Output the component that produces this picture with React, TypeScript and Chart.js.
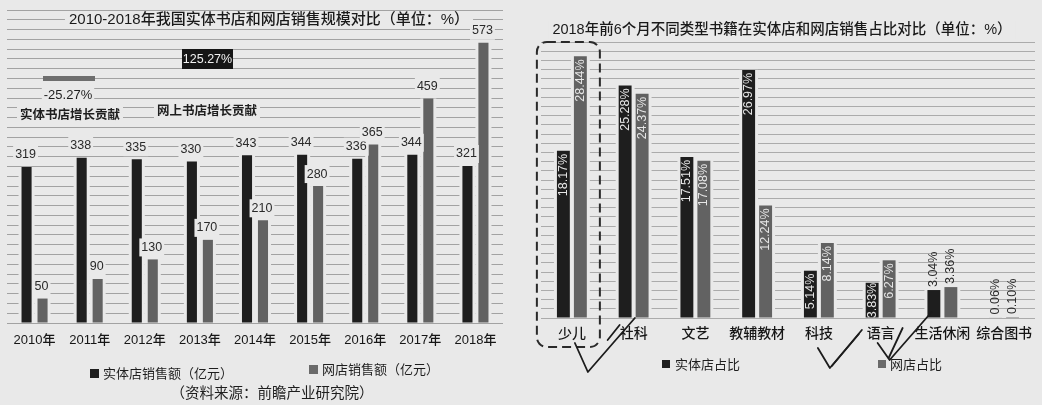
import { useEffect, useRef } from 'react';
import { Chart, registerables } from 'chart.js';

Chart.register(...registerables);

// ---------- data: left chart ----------
const years = ['2010年', '2011年', '2012年', '2013年', '2014年', '2015年', '2016年', '2017年', '2018年'];
const storeSales = [319, 338, 335, 330, 343, 344, 336, 344, 321];
const onlineSales = [50, 90, 130, 170, 210, 280, 365, 459, 573];
const salesLegend = ['实体店销售额（亿元）', '网店销售额（亿元）'];
const leftTitle = '2010-2018年我国实体书店和网店销售规模对比（单位：%）';
const growthLabels = ['实体书店增长贡献', '网上书店增长贡献'];
const growthValues = [-25.27, 125.27];
const sourceNote = '（资料来源：前瞻产业研究院）';

// ---------- data: right chart ----------
const genres = ['少儿', '社科', '文艺', '教辅教材', '科技', '语言', '生活休闲', '综合图书'];
const storeShare = [18.17, 25.28, 17.51, 26.97, 5.14, 3.83, 3.04, 0.06];
const onlineShare = [28.44, 24.37, 17.08, 12.24, 8.14, 6.27, 3.36, 0.1];
const shareLegend = ['实体店占比', '网店占比'];
const rightTitle = '2018年前6个月不同类型书籍在实体店和网店销售占比对比（单位：%）';

// ---------- styles ----------
const FONT = "'Liberation Sans', 'Noto Sans CJK SC', sans-serif";
const BG = '#e9e9e9';
const DARK = '#1e1e1e';
const GRAY = '#626262';
const RULE = '#a2a2a2';
const INK = '#1c1c1c';

Chart.defaults.font.family = FONT;

function textWithBg(ctx: any, text: string, x: number, y: number, font: string, color: string, align: string = 'center', pad = 3) {
  ctx.save();
  ctx.font = font;
  const w = ctx.measureText(text).width;
  const left = align === 'center' ? x - w / 2 : align === 'left' ? x : x - w;
  ctx.fillStyle = BG;
  ctx.fillRect(left - pad, y - 9, w + pad * 2, 18);
  ctx.fillStyle = color;
  ctx.textAlign = align;
  ctx.textBaseline = 'middle';
  ctx.fillText(text, x, y);
  ctx.restore();
}

// clears the ruled lines around each bar
const gapPlugin = {
  id: 'gapPlugin',
  beforeDatasetsDraw(chart: any) {
    const ctx = chart.ctx;
    ctx.save();
    ctx.fillStyle = BG;
    chart.data.datasets.forEach((_: any, di: number) => {
      chart.getDatasetMeta(di).data.forEach((bar: any) => {
        const { x, y, base, width } = bar.getProps(['x', 'y', 'base', 'width'], true);
        ctx.fillRect(x - width / 2 - 3, y, width + 6, base - y);
      });
    });
    ctx.restore();
  },
};

const leftLabels = {
  id: 'leftLabels',
  afterDatasetsDraw(chart: any) {
    const ctx = chart.ctx;
    chart.data.datasets.forEach((ds: any, di: number) => {
      chart.getDatasetMeta(di).data.forEach((bar: any, i: number) => {
        const { x, y } = bar.getProps(['x', 'y'], true);
        textWithBg(ctx, String(ds.data[i]), x - 1, y - 12, `12.5px ${FONT}`, '#2a2a2a', 'center', 2);
      });
    });
  },
};

const leftDecor = {
  id: 'leftDecor',
  afterDraw(chart: any) {
    const ctx = chart.ctx;
    const a = chart.chartArea;
    // title
    textWithBg(ctx, leftTitle, (a.left + a.right) / 2 + 14, 20, `500 15px ${FONT}`, '#1a1a1a', 'center', 4);
    // growth contribution mini chart
    ctx.save();
    const up = growthValues[1].toFixed(2) + '%';
    ctx.fillStyle = '#161616';
    ctx.fillRect(182, 49, 51, 20);
    ctx.fillStyle = '#f2f2f2';
    ctx.font = `12.5px ${FONT}`;
    ctx.textAlign = 'center';
    ctx.textBaseline = 'middle';
    ctx.fillText(up, 207.5, 59.5);
    ctx.fillStyle = '#6e6e6e';
    ctx.fillRect(43, 76, 52, 5);
    ctx.restore();
    textWithBg(ctx, growthValues[0].toFixed(2) + '%', 68, 95, `13px ${FONT}`, '#1e1e1e', 'center', 2);
    textWithBg(ctx, growthLabels[0], 20, 116, `bold 12.5px ${FONT}`, '#1e1e1e', 'left', 3);
    textWithBg(ctx, growthLabels[1], 157, 112, `bold 12.5px ${FONT}`, '#1e1e1e', 'left', 3);
    // legend
    ctx.save();
    ctx.font = `13px ${FONT}`;
    ctx.textBaseline = 'middle';
    ctx.textAlign = 'left';
    ctx.fillStyle = DARK;
    ctx.fillRect(90, 369, 9, 9);
    ctx.fillStyle = '#1e1e1e';
    ctx.fillText(salesLegend[0], 103, 374);
    ctx.fillStyle = '#6a6a6a';
    ctx.fillRect(309, 365, 9, 9);
    ctx.fillStyle = '#1e1e1e';
    ctx.fillText(salesLegend[1], 322, 370);
    // source
    ctx.font = `14.5px ${FONT}`;
    ctx.textAlign = 'center';
    ctx.fillText(sourceNote, 272, 394);
    ctx.restore();
  },
};

const rightLabels = {
  id: 'rightLabels',
  afterDatasetsDraw(chart: any) {
    const ctx = chart.ctx;
    ctx.save();
    ctx.font = `12.5px ${FONT}`;
    ctx.textBaseline = 'middle';
    chart.data.datasets.forEach((ds: any, di: number) => {
      chart.getDatasetMeta(di).data.forEach((bar: any, i: number) => {
        const { x, y, base } = bar.getProps(['x', 'y', 'base'], true);
        const text = Number(ds.data[i]).toFixed(2) + '%';
        const w = ctx.measureText(text).width;
        const h = base - y;
        ctx.save();
        if (w <= h + 1) {
          const off = Math.max(0, Math.min(3, h - w));
          ctx.translate(x, y + off);
          ctx.rotate(-Math.PI / 2);
          ctx.textAlign = 'right';
          ctx.fillStyle = '#e6e6e6';
        } else {
          ctx.translate(x, y - 3);
          ctx.rotate(-Math.PI / 2);
          ctx.textAlign = 'left';
          ctx.fillStyle = '#2a2a2a';
        }
        ctx.fillText(text, 0, 0);
        ctx.restore();
      });
    });
    ctx.restore();
  },
};

function inkLine(ctx: any, pts: number[][]) {
  ctx.beginPath();
  ctx.moveTo(pts[0][0], pts[0][1]);
  for (let i = 1; i < pts.length; i++) ctx.lineTo(pts[i][0], pts[i][1]);
  ctx.stroke();
}

const rightDecor = {
  id: 'rightDecor',
  afterDraw(chart: any) {
    const ctx = chart.ctx;
    const a = chart.chartArea;
    const xs = chart.scales.x;
    textWithBg(ctx, rightTitle, 262, 30, `500 14.5px ${FONT}`, '#1a1a1a', 'center', 4);
    // legend
    ctx.save();
    ctx.font = `13px ${FONT}`;
    ctx.textBaseline = 'middle';
    ctx.textAlign = 'left';
    ctx.fillStyle = DARK;
    ctx.fillRect(142, 360, 8, 8);
    ctx.fillStyle = '#1e1e1e';
    ctx.fillText(shareLegend[0], 155, 365);
    ctx.fillStyle = '#6a6a6a';
    ctx.fillRect(358, 360, 8, 8);
    ctx.fillStyle = '#1e1e1e';
    ctx.fillText(shareLegend[1], 370, 365);
    ctx.restore();
    // hand-drawn dashed box around the first category
    const c0 = xs.getPixelForValue(0);
    ctx.save();
    ctx.strokeStyle = '#2a2a2a';
    ctx.lineWidth = 2;
    ctx.setLineDash([9, 5]);
    ctx.beginPath();
    (ctx as any).roundRect(c0 - 35, a.top, 63, a.bottom - a.top + 29, 10);
    ctx.stroke();
    ctx.restore();
    // hand-drawn check marks
    ctx.save();
    ctx.strokeStyle = INK;
    ctx.lineWidth = 1.8;
    ctx.lineCap = 'round';
    ctx.lineJoin = 'round';
    const b = a.bottom;
    inkLine(ctx, [[c0 + 3, b + 25], [c0 + 16, b + 54], [c0 + 63, b]]);
    const c1 = xs.getPixelForValue(1);
    inkLine(ctx, [[c1 - 26, b + 22], [c1 - 14, b + 7]]);
    const c4 = xs.getPixelForValue(4);
    inkLine(ctx, [[c4 - 1, b + 30], [c4 + 11, b + 50], [c4 + 43, b + 12]]);
    inkLine(ctx, [[c4 + 13, b + 48], [c4 + 40, b + 16]]);
    const c5 = xs.getPixelForValue(5);
    inkLine(ctx, [[c5 - 3, b + 25], [c5 + 9, b + 42], [c5 + 51, b - 6]]);
    inkLine(ctx, [[c5 + 8, b + 40], [c5 + 22, b + 10]]);
    ctx.restore();
  },
};

function leftConfig(): any {
  return {
    type: 'bar',
    data: {
      labels: years,
      datasets: [
        { label: salesLegend[0], data: storeSales, backgroundColor: DARK, categoryPercentage: 0.58, barPercentage: 0.63 },
        { label: salesLegend[1], data: onlineSales, backgroundColor: GRAY, categoryPercentage: 0.58, barPercentage: 0.63 },
      ],
    },
    options: {
      animation: false,
      responsive: true,
      maintainAspectRatio: false,
      layout: { padding: { left: 7, right: 17, top: 10, bottom: 52 } },
      plugins: { legend: { display: false }, tooltip: { enabled: false }, title: { display: false } },
      scales: {
        x: {
          grid: { display: false },
          border: { display: false },
          ticks: { color: '#161616', font: { size: 13, family: FONT, weight: '500' }, padding: 2, maxRotation: 0, autoSkip: false },
          afterFit: (s: any) => { s.height = 30; },
        },
        y: {
          min: 0,
          max: 640,
          ticks: { display: false, stepSize: 20 },
          grid: { color: RULE, lineWidth: 1, drawTicks: false },
          border: { display: false },
          afterFit: (s: any) => { s.width = 0; },
        },
      },
    },
    plugins: [gapPlugin, leftLabels, leftDecor],
  };
}

function rightConfig(): any {
  return {
    type: 'bar',
    data: {
      labels: genres,
      datasets: [
        { label: shareLegend[0], data: storeShare, backgroundColor: DARK, categoryPercentage: 0.55, barPercentage: 0.76 },
        { label: shareLegend[1], data: onlineShare, backgroundColor: GRAY, categoryPercentage: 0.55, barPercentage: 0.76 },
      ],
    },
    options: {
      animation: false,
      responsive: true,
      maintainAspectRatio: false,
      layout: { padding: { left: 21, right: 7, top: 42, bottom: 57 } },
      plugins: { legend: { display: false }, tooltip: { enabled: false }, title: { display: false } },
      scales: {
        x: {
          grid: { display: false },
          border: { display: false },
          ticks: { color: '#161616', font: { size: 14, family: FONT, weight: '500' }, padding: 0, maxRotation: 0, autoSkip: false },
          afterFit: (s: any) => { s.height = 30; },
        },
        y: {
          min: 0,
          max: 30,
          ticks: { display: false, stepSize: 1 },
          grid: { color: '#ababab', lineWidth: 1, drawTicks: false },
          border: { display: false },
          afterFit: (s: any) => { s.width = 0; },
        },
      },
    },
    plugins: [gapPlugin, rightLabels, rightDecor],
  };
}

function ChartBox({ make, left, width }: { make: () => any; left: number; width: number }) {
  const ref = useRef<HTMLCanvasElement>(null);
  useEffect(() => {
    const chart = new Chart(ref.current as HTMLCanvasElement, make());
    return () => chart.destroy();
  }, []);
  return (
    <div style={{ position: 'absolute', left, top: 0, width, height: 405 }}>
      <canvas ref={ref} />
    </div>
  );
}

export default function App() {
  return (
    <div style={{ position: 'absolute', left: 0, top: 0, width: 1042, height: 405, background: BG, overflow: 'hidden' }}>
      <ChartBox make={leftConfig} left={0} width={520} />
      <ChartBox make={rightConfig} left={520} width={522} />
    </div>
  );
}
